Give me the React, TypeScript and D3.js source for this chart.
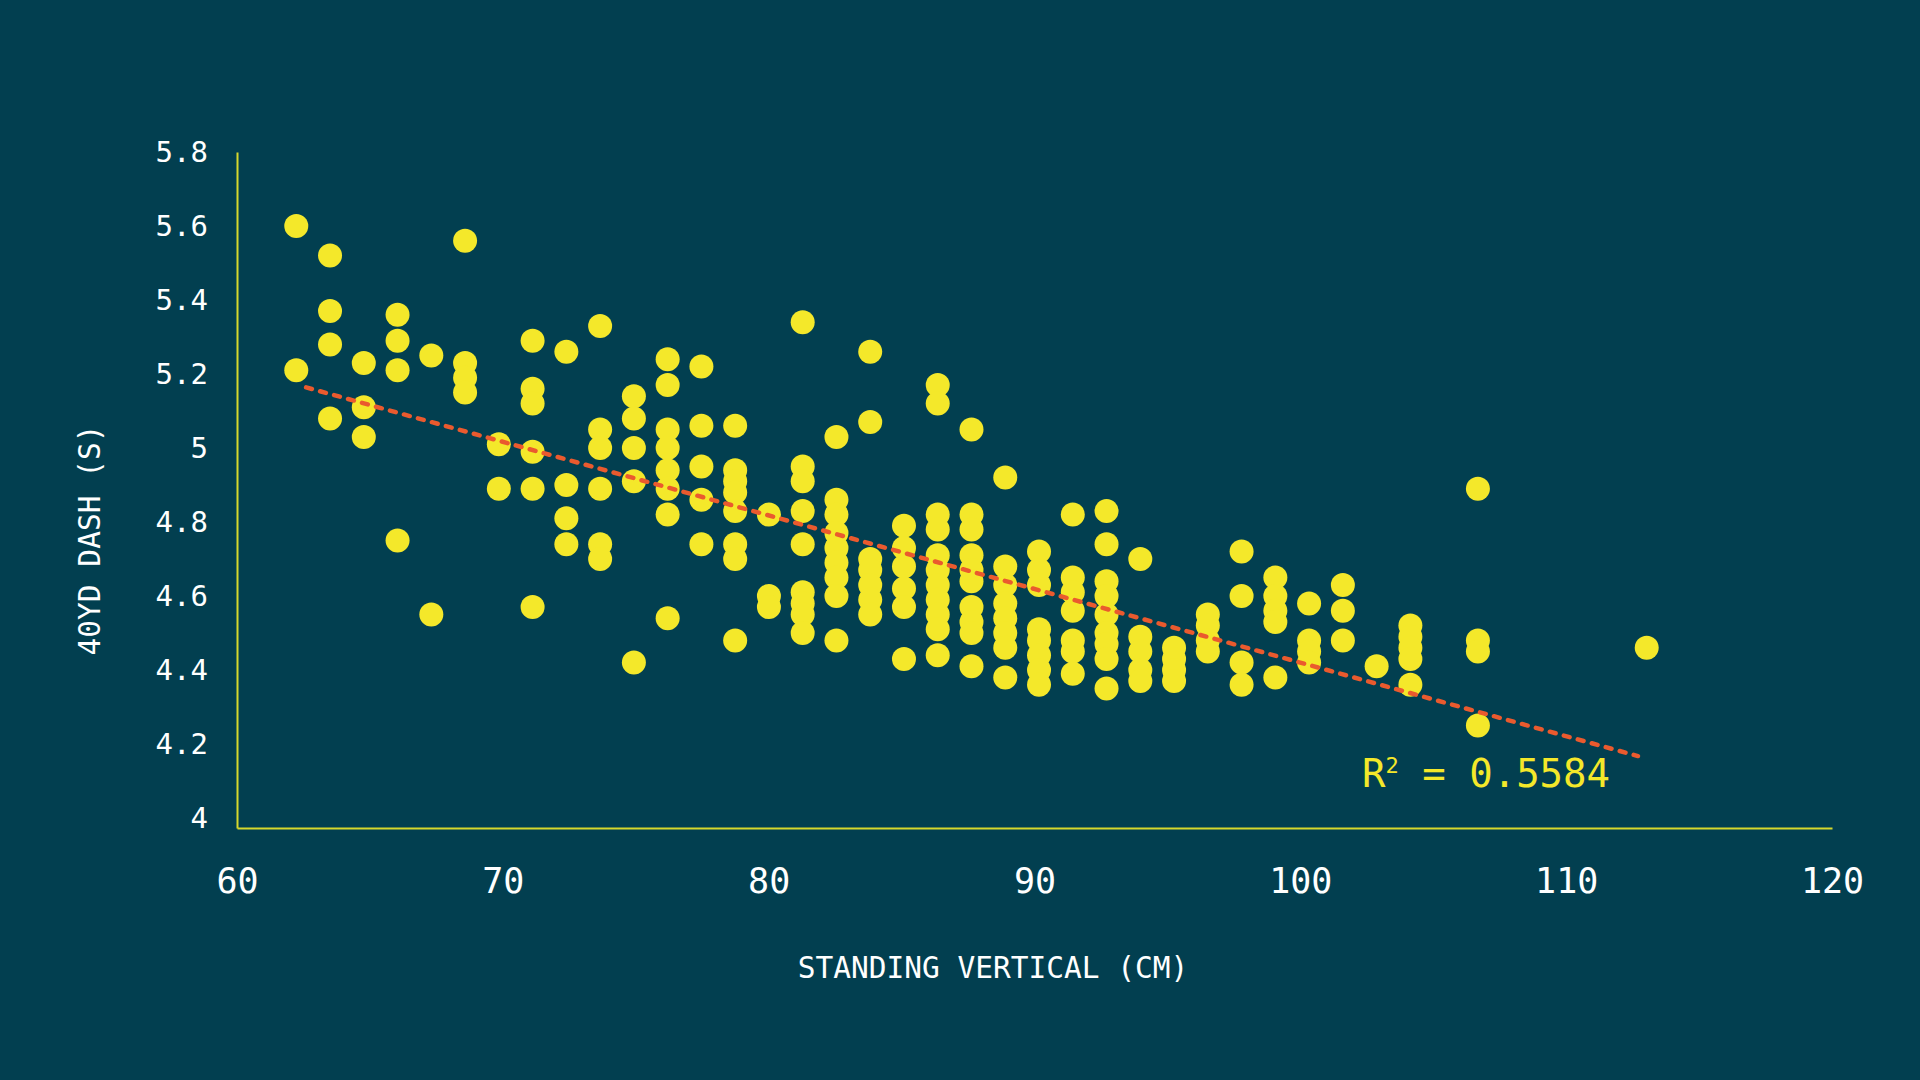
import { useEffect, useRef } from "react";
import * as d3 from "d3";

// standing vertical in cm (half-inch steps), one entry per column of dots
const verticalCm = [
  62.23, 63.5, 64.77, 66.04, 67.31, 68.58, 69.85, 71.12, 72.39, 73.66,
  74.93, 76.2, 77.47, 78.74, 80.01, 81.28, 82.55, 83.82, 85.09, 86.36,
  87.63, 88.9, 90.17, 91.44, 92.71, 93.98, 95.25, 96.52, 97.79, 99.06,
  100.33, 101.6, 102.87, 104.14, 106.68, 113.03,
];

// 40yd dash times (s) for each column above
const dashTimes = [
  [5.6, 5.21],
  [5.52, 5.37, 5.28, 5.08],
  [5.23, 5.11, 5.03],
  [5.36, 5.29, 5.21, 4.75],
  [5.25, 4.55],
  [5.56, 5.23, 5.19, 5.15],
  [5.01, 4.89],
  [5.29, 5.16, 5.12, 4.99, 4.89, 4.57],
  [5.26, 4.9, 4.81, 4.74],
  [5.33, 5.05, 5.0, 4.89, 4.74, 4.7],
  [5.14, 5.08, 5.0, 4.91, 4.42],
  [5.24, 5.17, 5.05, 5.0, 4.94, 4.89, 4.82, 4.54],
  [5.22, 5.06, 4.95, 4.86, 4.74],
  [5.06, 4.94, 4.91, 4.88, 4.83, 4.74, 4.7, 4.48],
  [4.82, 4.6, 4.57],
  [5.34, 4.95, 4.91, 4.83, 4.74, 4.61, 4.58, 4.55, 4.5],
  [5.03, 4.86, 4.82, 4.77, 4.73, 4.69, 4.65, 4.6, 4.48],
  [5.26, 5.07, 4.7, 4.67, 4.63, 4.59, 4.55],
  [4.79, 4.73, 4.68, 4.62, 4.57, 4.43],
  [5.17, 5.12, 4.82, 4.78, 4.71, 4.67, 4.63, 4.59, 4.55, 4.51, 4.44],
  [5.05, 4.82, 4.78, 4.71, 4.67, 4.64, 4.57, 4.53, 4.5, 4.41],
  [4.92, 4.68, 4.63, 4.58, 4.54, 4.5, 4.46, 4.38],
  [4.72, 4.67, 4.63, 4.51, 4.48, 4.44, 4.4, 4.36],
  [4.82, 4.65, 4.61, 4.56, 4.48, 4.45, 4.39],
  [4.83, 4.74, 4.64, 4.6, 4.55, 4.5, 4.47, 4.43, 4.35],
  [4.7, 4.49, 4.45, 4.4, 4.37],
  [4.46, 4.43, 4.4, 4.37],
  [4.55, 4.52, 4.48, 4.45],
  [4.72, 4.6, 4.42, 4.36],
  [4.65, 4.6, 4.56, 4.53, 4.38],
  [4.58, 4.48, 4.45, 4.42],
  [4.63, 4.56, 4.48],
  [4.41],
  [4.52, 4.49, 4.46, 4.43, 4.36],
  [4.89, 4.48, 4.45, 4.25],
  [4.46],
];

const xTicks = [60, 70, 80, 90, 100, 110, 120];
const yTicks = [4, 4.2, 4.4, 4.6, 4.8, 5, 5.2, 5.4, 5.6, 5.8];

// linear fit
const trendSlope = -0.01989;
const trendIntercept = 6.409;
const trendExtent = [62.6, 112.7];
const rSquared = "0.5584";

const W = 1920;
const H = 1080;
const BG = "#023f50";
const DOT = "#f4e82a";
const AXIS = "#d6d82c";
const TREND = "#ea5a2e";
const FONT = "'DejaVu Sans Mono', 'Liberation Mono', monospace";

export default function App() {
  const ref = useRef<SVGSVGElement>(null);

  useEffect(() => {
    const svg = d3.select(ref.current);
    svg.selectAll("*").remove();

    svg.append("rect").attr("width", W).attr("height", H).attr("fill", BG);

    const x = d3.scaleLinear().domain([60, 120]).range([237, 1832]);
    const y = d3.scaleLinear().domain([3.973, 5.8]).range([828, 152]);

    // X axis
    const gx = svg.append("g")
      .attr("transform", "translate(0,828)")
      .call(d3.axisBottom(x).tickValues(xTicks).tickSize(0).tickPadding(40).tickFormat(d => String(d)));
    gx.select(".domain").attr("stroke", AXIS).attr("stroke-width", 2);
    gx.selectAll("text").attr("fill", "#ffffff").attr("font-family", FONT).attr("font-size", 35)
      .style("font-variant-numeric", "slashed-zero");

    // Y axis
    const gy = svg.append("g")
      .attr("transform", "translate(237,0)")
      .call(d3.axisLeft(y).tickValues(yTicks).tickSize(0).tickPadding(29).tickFormat(d => String(+(+d).toFixed(1))));
    gy.select(".domain").attr("stroke", AXIS).attr("stroke-width", 2);
    gy.selectAll("text").attr("fill", "#ffffff").attr("font-family", FONT).attr("font-size", 29);

    // Axis titles
    svg.append("text")
      .attr("x", 993).attr("y", 978)
      .attr("text-anchor", "middle")
      .attr("fill", "#ffffff")
      .attr("font-family", FONT).attr("font-size", 29.5)
      .text("STANDING VERTICAL (CM)");

    svg.append("text")
      .attr("transform", "translate(100,540) rotate(-90)")
      .attr("text-anchor", "middle")
      .attr("fill", "#ffffff")
      .attr("font-family", FONT).attr("font-size", 29.5)
      .style("font-variant-numeric", "slashed-zero")
      .text("40YD DASH (S)");

    // Dots
    const points = verticalCm.flatMap((cm, i) => dashTimes[i].map(t => [cm, t]));
    svg.append("g")
      .selectAll("circle")
      .data(points).enter()
      .append("circle")
      .attr("cx", d => x(d[0]))
      .attr("cy", d => y(d[1]))
      .attr("r", 12)
      .attr("fill", DOT);

    // Trend line
    const line = d3.line<number>()
      .x(d => x(d))
      .y(d => y(trendIntercept + trendSlope * d));
    svg.append("path")
      .attr("d", line(trendExtent))
      .attr("fill", "none")
      .attr("stroke", TREND)
      .attr("stroke-width", 4.5)
      .attr("stroke-linecap", "round")
      .attr("stroke-dasharray", "6 8.5");

    // R squared label
    const r2 = svg.append("text")
      .attr("x", 1362).attr("y", 787)
      .attr("fill", DOT)
      .attr("font-family", FONT).attr("font-size", 39)
      .style("font-variant-numeric", "slashed-zero");
    r2.append("tspan").text("R");
    r2.append("tspan").attr("font-size", 22).attr("dy", -14).text("2");
    r2.append("tspan").attr("dy", 14).text(" = " + rSquared);
  }, []);

  return (
    <svg
      ref={ref}
      width={W}
      height={H}
      style={{ position: "absolute", left: 0, top: 0, display: "block" }}
    />
  );
}
